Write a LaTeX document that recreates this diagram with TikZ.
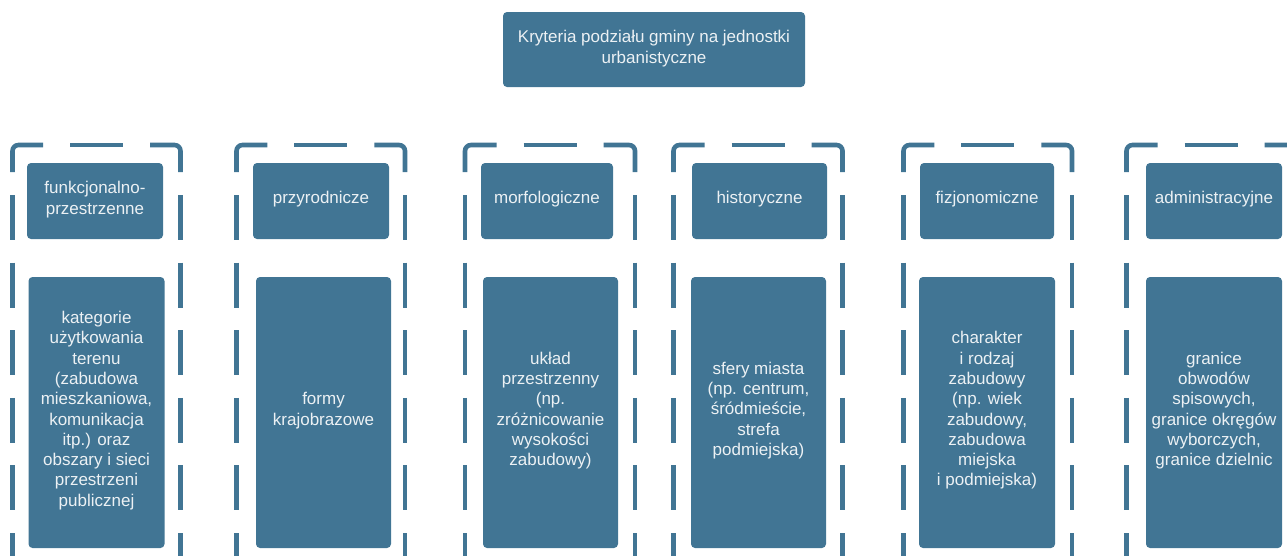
\documentclass[tikz,border=0pt]{standalone}
\usepackage{fontspec}
\setmainfont{Liberation Sans}
\definecolor{boxc}{RGB}{65,117,148}
\definecolor{txtc}{RGB}{236,241,244}
\newcommand\dframe[2]{%
  \pgfmathsetmacro\Lx{#1}%
  \pgfmathsetmacro\Rx{#2}%
  \pgfmathsetmacro\Cx{(#1+#2)/2}%
  \pgfmathsetmacro\cl{(#2-#1-53-54)/2}%
  \draw[frame,rounded corners=6pt] (\Lx,172) -- (\Lx,145) -- ({\Lx+\cl},145);
  \draw[frame,rounded corners=6pt] ({\Rx-\cl},145) -- (\Rx,145) -- (\Rx,172);
  \draw[frame] ({\Cx-26.5},145) -- ({\Cx+26.5},145);
  \foreach \yy in {195,262.6,...,600}{%
    \draw[frame] (\Lx,\yy) -- (\Lx,{\yy+45});
    \draw[frame] (\Rx,\yy) -- (\Rx,{\yy+45});
  }%
}
\begin{document}
\begin{tikzpicture}[x=1pt,y=-1pt,
  box/.style={fill=boxc,rounded corners=4pt,inner sep=0pt},
  txt/.style={text=txtc,align=center,font=\fontsize{17}{20.3}\selectfont,inner sep=0pt},
  frame/.style={draw=boxc,line width=4.6pt}]
\useasboundingbox (0,0) rectangle (1287,555);
\clip (0,0) rectangle (1287,555);

% top box
\node[box,minimum width=302pt,minimum height=75pt] (top) at (654,49.5) {};
\node[txt] (toptxt) at (654,48.5) {Kryteria podziału gminy na jednostki\\urbanistyczne};

% dashed frames
\dframe{12.5}{180.5}
\dframe{236.5}{405}
\dframe{465}{635}
\dframe{673.5}{842.5}
\dframe{903.5}{1072}
\dframe{1126.5}{1295.5}

% headers
\node[box,minimum width=136pt,minimum height=76pt] (h1) at (95,201) {};
\node[box,minimum width=136pt,minimum height=76pt] (h2) at (321,201) {};
\node[box,minimum width=132pt,minimum height=76pt] (h3) at (547,201) {};
\node[box,minimum width=135pt,minimum height=76pt] (h4) at (759.5,201) {};
\node[box,minimum width=134pt,minimum height=76pt] (h5) at (987,201) {};
\node[box,minimum width=136pt,minimum height=76pt] (h6) at (1214,201) {};
\node[txt] (ht1) at (95,199.5) {funkcjonalno-\\przestrzenne};
\node[txt] (ht2) at (321,199.5) {przyrodnicze};
\node[txt] (ht3) at (547,199.5) {morfologiczne};
\node[txt] (ht4) at (759.5,199.5) {historyczne};
\node[txt] (ht5) at (987,199.5) {fizjonomiczne};
\node[txt] (ht6) at (1214,199.5) {administracyjne};

% bodies
\node[box,minimum width=136pt,minimum height=271pt] (b1) at (96.5,412.5) {};
\node[box,minimum width=135pt,minimum height=271pt] (b2) at (323.5,412.5) {};
\node[box,minimum width=135pt,minimum height=271pt] (b3) at (550.5,412.5) {};
\node[box,minimum width=135pt,minimum height=271pt] (b4) at (758.5,412.5) {};
\node[box,minimum width=136pt,minimum height=271pt] (b5) at (987,412.5) {};
\node[box,minimum width=136pt,minimum height=271pt] (b6) at (1214,412.5) {};
\node[txt] (bt1) at (96.5,410.5) {kategorie\\użytkowania\\terenu\\(zabudowa\\mieszkaniowa,\\komunikacja\\itp.) oraz\\obszary i sieci\\przestrzeni\\publicznej};
\node[txt] (bt2) at (323.5,410.5) {formy\\krajobrazowe};
\node[txt] (bt3) at (550.5,410.5) {układ\\przestrzenny\\(np.\\zróżnicowanie\\wysokości\\zabudowy)};
\node[txt] (bt4) at (758.5,410.5) {sfery miasta\\(np. centrum,\\śródmieście,\\strefa\\podmiejska)};
\node[txt] (bt5) at (987,410.5) {charakter\\i rodzaj\\zabudowy\\(np. wiek\\zabudowy,\\zabudowa\\miejska\\i podmiejska)};
\node[txt] (bt6) at (1214,410.5) {granice\\obwodów\\spisowych,\\granice okręgów\\wyborczych,\\granice dzielnic};
\end{tikzpicture}
\end{document}
